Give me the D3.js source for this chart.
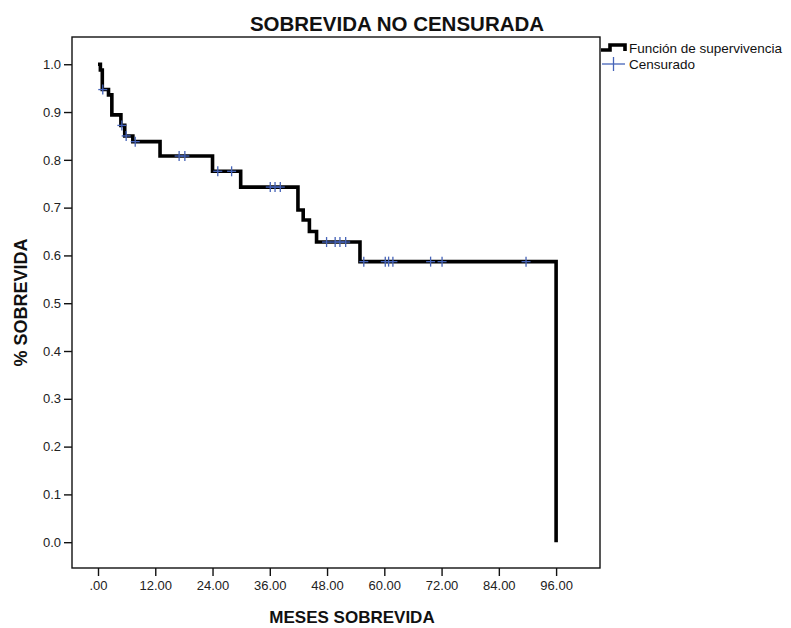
<!DOCTYPE html>
<html><head><meta charset="utf-8">
<script src="https://cdn.jsdelivr.net/npm/d3@7"></script>
<style>body{margin:0;background:#fff}svg{display:block}</style>
</head><body>
<svg id="chart" width="791" height="628"></svg>
<script>
const chartTitle = "SOBREVIDA NO CENSURADA";
const xAxisLabel = "MESES SOBREVIDA";
const yAxisLabel = "% SOBREVIDA";
const legendLabels = ["Función de supervivencia", "Censurado"];
const xTickValues = [0, 12, 24, 36, 48, 60, 72, 84, 96];
const yTickValues = [0, 0.1, 0.2, 0.3, 0.4, 0.5, 0.6, 0.7, 0.8, 0.9, 1.0];
// Kaplan-Meier step points (time in months, survival after step)
const stepTimes = [0, 0.5, 0.9, 2.2, 2.9, 4.8, 5.6, 7.3, 13.0, 24.0, 29.9, 41.9, 43.0, 44.3, 45.8, 54.9, 96.0];
const stepSurv  = [1.0, 0.988, 0.947, 0.936, 0.894, 0.872, 0.850, 0.838, 0.808, 0.776, 0.743, 0.695, 0.674, 0.650, 0.628, 0.587, 0.0];
// censored observations (months)
const censorTimes = [1.0, 5.0, 5.9, 7.8, 17.0, 18.2, 25.1, 28.0, 36.1, 37.1, 38.2, 47.9, 49.7, 50.7, 51.9, 55.7, 60.2, 60.9, 61.8, 69.7, 72.1, 89.7];

const FONT = "'Liberation Sans', Arial, Helvetica, sans-serif";
const svg = d3.select("#chart");
const m = {left: 72, top: 37, right: 600, bottom: 568};

const x = d3.scaleLinear().domain([-5.45, 105.2]).range([m.left, m.right]);
const y = d3.scaleLinear().domain([-0.054, 1.057]).range([m.bottom, m.top]);

// frame
svg.append("rect").attr("x", m.left).attr("y", m.top)
  .attr("width", m.right - m.left).attr("height", m.bottom - m.top)
  .attr("fill", "none").attr("stroke", "#111").attr("stroke-width", 1.4);

// axes
const xAxis = d3.axisBottom(x).tickValues(xTickValues).tickSize(8).tickPadding(5)
  .tickFormat(d => d === 0 ? ".00" : d.toFixed(2));
const gx = svg.append("g").attr("transform", `translate(0,${m.bottom})`).call(xAxis);
const yAxis = d3.axisLeft(y).tickValues(yTickValues).tickSize(8).tickPadding(3)
  .tickFormat(d3.format(".1f"));
const gy = svg.append("g").attr("transform", `translate(${m.left},0)`).call(yAxis);
[gx, gy].forEach(g => {
  g.select(".domain").remove();
  g.selectAll(".tick line").attr("stroke", "#111").attr("stroke-width", 1.4);
  g.selectAll(".tick text").attr("fill", "#222").style("font-family", FONT).style("font-size", "13px");
});

// survival curve
const pts = stepTimes.map((t, i) => [t, stepSurv[i]]);
const line = d3.line().x(d => x(d[0])).y(d => y(d[1])).curve(d3.curveStepAfter);
svg.append("path").datum(pts).attr("d", line)
  .attr("fill", "none").attr("stroke", "#000").attr("stroke-width", 3.6)
  .attr("stroke-linejoin", "miter");

// censor marks
function survAt(t) {
  let s = stepSurv[0];
  for (let i = 0; i < stepTimes.length; i++) if (stepTimes[i] <= t) s = stepSurv[i];
  return s;
}
const CEN = "#4563b8";
const cg = svg.append("g");
censorTimes.forEach(t => {
  const cx = x(t), cy = y(survAt(t));
  cg.append("line").attr("x1", cx - 4.5).attr("x2", cx + 4.5).attr("y1", cy).attr("y2", cy)
    .attr("stroke", CEN).attr("stroke-width", 1.3);
  cg.append("line").attr("x1", cx).attr("x2", cx).attr("y1", cy - 5).attr("y2", cy + 5)
    .attr("stroke", CEN).attr("stroke-width", 1.3);
});

// title
svg.append("text").attr("x", 397).attr("y", 31).attr("text-anchor", "middle")
  .style("font-family", FONT).style("font-size", "20.5px").style("font-weight", "bold")
  .attr("fill", "#111").text(chartTitle);

// axis labels
svg.append("text").attr("x", 352).attr("y", 623).attr("text-anchor", "middle")
  .style("font-family", FONT).style("font-size", "17px").style("font-weight", "bold")
  .attr("fill", "#111").text(xAxisLabel);
svg.append("text").attr("transform", `translate(27,${(m.top + m.bottom) / 2}) rotate(-90)`)
  .attr("text-anchor", "middle")
  .style("font-family", FONT).style("font-size", "18px").style("font-weight", "bold")
  .attr("fill", "#111").text(yAxisLabel);

// legend
const lg = svg.append("g");
lg.append("path").attr("d", "M601,50 H610 V45 H625 V51")
  .attr("fill", "none").attr("stroke", "#000").attr("stroke-width", 3.6);
lg.append("line").attr("x1", 602).attr("x2", 625).attr("y1", 64).attr("y2", 64)
  .attr("stroke", CEN).attr("stroke-width", 1.3);
lg.append("line").attr("x1", 613.5).attr("x2", 613.5).attr("y1", 57).attr("y2", 71)
  .attr("stroke", CEN).attr("stroke-width", 1.3);
legendLabels.forEach((l, i) => {
  lg.append("text").attr("x", 629).attr("y", 53 + i * 16)
    .style("font-family", FONT).style("font-size", "13.5px")
    .attr("fill", "#111").text(l);
});
</script>
</body></html>
